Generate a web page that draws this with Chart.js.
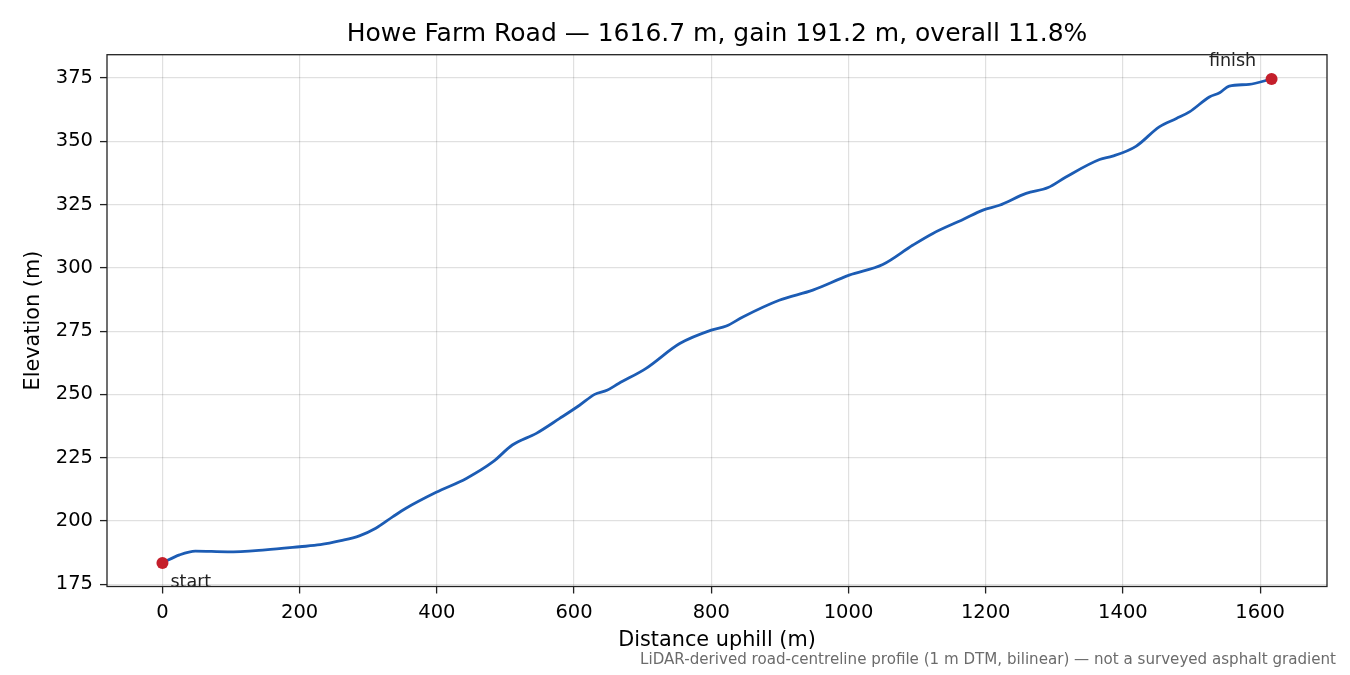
<!DOCTYPE html>
<html>
<head>
<meta charset="utf-8">
<script src="https://cdn.jsdelivr.net/npm/chart.js@4.4.1/dist/chart.umd.min.js"></script>
<style>
  html, body { margin: 0; padding: 0; background: #fff; }
  #wrap { width: 1350px; height: 675px; }
</style>
</head>
<body>
<div id="wrap"><canvas id="profileChart" width="1350" height="675"></canvas></div>
<script>
// Profile data
const distances = [0, 25, 48, 95, 150, 200, 230, 260, 287, 311, 336, 355, 399, 443, 482, 510, 545, 579, 608, 630, 648, 665, 705, 754, 800, 822, 846, 899, 948, 1001, 1050, 1094, 1123, 1167, 1196, 1220, 1259, 1291, 1317, 1366, 1385, 1419, 1453, 1478, 1497, 1526, 1541, 1555, 1584, 1616.7];
const elevations = [183.4, 186.6, 188.1, 187.8, 188.6, 189.8, 190.6, 192.2, 194.1, 197.1, 201.7, 205.0, 211.3, 216.8, 223.4, 230.0, 234.6, 240.5, 245.7, 250.0, 251.6, 254.3, 260.3, 270.1, 275.4, 277.0, 280.6, 287.2, 291.2, 297.1, 301.3, 309.0, 313.6, 319.1, 322.8, 324.7, 329.4, 331.7, 335.9, 342.8, 344.1, 348.0, 355.7, 359.0, 361.6, 367.5, 369.2, 371.8, 372.5, 374.6];

const xTickValues = [0, 200, 400, 600, 800, 1000, 1200, 1400, 1600];
const yTickValues = [175, 200, 225, 250, 275, 300, 325, 350, 375];
const endLabels = ["start", "finish"];

const titleText = "Howe Farm Road \u2014 1616.7 m, gain 191.2 m, overall 11.8%";
const footnote = "LiDAR-derived road-centreline profile (1 m DTM, bilinear) \u2014 not a surveyed asphalt gradient";

const FONT = "'DejaVu Sans', 'Liberation Sans', sans-serif";

const profilePoints = distances.map((d, i) => ({ x: d, y: elevations[i] }));
const last = distances.length - 1;
const endPoints = [
    { x: distances[0], y: elevations[0] },
    { x: distances[last], y: elevations[last] }
];

// title, frame, start/finish labels and footnote
const extras = {
    id: 'extras',
    afterDraw(chart) {
        const ctx = chart.ctx;
        const area = chart.chartArea;
        const xs = chart.scales.x;
        const ys = chart.scales.y;
        ctx.save();
        ctx.strokeStyle = '#222';
        ctx.lineWidth = 1.3;
        ctx.strokeRect(area.left, area.top, area.right - area.left, area.bottom - area.top);

        ctx.fillStyle = '#000';
        ctx.font = "25px " + FONT;
        ctx.textAlign = 'center';
        ctx.textBaseline = 'middle';
        ctx.fillText(titleText, (area.left + area.right) / 2, 34);

        ctx.fillStyle = '#222';
        ctx.font = "17.5px " + FONT;
        ctx.textAlign = 'left';
        ctx.fillText(endLabels[0], xs.getPixelForValue(endPoints[0].x) + 8, ys.getPixelForValue(endPoints[0].y) + 19);
        ctx.textAlign = 'center';
        ctx.fillText(endLabels[1], xs.getPixelForValue(endPoints[1].x) - 39, ys.getPixelForValue(endPoints[1].y) - 18);

        ctx.fillStyle = '#6b6b6b';
        ctx.font = "15.1px " + FONT;
        ctx.textAlign = 'right';
        ctx.fillText(footnote, 1336, 660);
        ctx.restore();
    }
};

const ctx = document.getElementById('profileChart').getContext('2d');
new Chart(ctx, {
    type: 'scatter',
    data: {
        datasets: [{
            label: 'profile',
            data: profilePoints,
            showLine: true,
            borderColor: '#1c5cb4',
            borderWidth: 2.8,
            pointRadius: 0,
            cubicInterpolationMode: 'monotone',
            order: 2
        }, {
            label: 'ends',
            data: endPoints,
            showLine: false,
            pointRadius: 6,
            pointBackgroundColor: '#c41f2b',
            pointBorderColor: '#c41f2b',
            pointBorderWidth: 0,
            order: 1
        }]
    },
    options: {
        responsive: false,
        animation: false,
        devicePixelRatio: 1,
        layout: { padding: { left: 0, right: 23, top: 54.7, bottom: 0 } },
        plugins: {
            legend: { display: false },
            tooltip: { enabled: false },
            title: { display: false }
        },
        scales: {
            x: {
                type: 'linear',
                min: -80.8,
                max: 1697.5,
                afterFit(scale) { scale.height = 88.5; },
                afterBuildTicks(scale) { scale.ticks = xTickValues.map(v => ({ value: v })); },
                border: { display: false },
                grid: { color: 'rgba(0,0,0,0.12)', lineWidth: 1.2, tickColor: '#222', tickLength: 7, tickWidth: 1.3 },
                ticks: {
                    color: '#000',
                    padding: 8,
                    maxRotation: 0,
                    autoSkip: false,
                    font: { family: FONT, size: 19.5 },
                    callback: v => String(v)
                },
                title: {
                    display: true,
                    text: 'Distance uphill (m)',
                    color: '#000',
                    font: { family: FONT, size: 20.8 },
                    padding: { top: 0, bottom: 22 }
                }
            },
            y: {
                type: 'linear',
                min: 174.1,
                max: 384.2,
                afterFit(scale) { scale.width = 107; },
                afterBuildTicks(scale) { scale.ticks = yTickValues.map(v => ({ value: v })); },
                border: { display: false },
                grid: { color: 'rgba(0,0,0,0.12)', lineWidth: 1.2, tickColor: '#222', tickLength: 7, tickWidth: 1.3 },
                ticks: {
                    color: '#000',
                    padding: 7,
                    autoSkip: false,
                    font: { family: FONT, size: 19.5 },
                    callback: v => String(v)
                },
                title: {
                    display: true,
                    text: 'Elevation (m)',
                    color: '#000',
                    font: { family: FONT, size: 20.8 },
                    padding: { top: 21.5, bottom: 0 }
                }
            }
        }
    },
    plugins: [extras]
});
</script>
</body>
</html>
